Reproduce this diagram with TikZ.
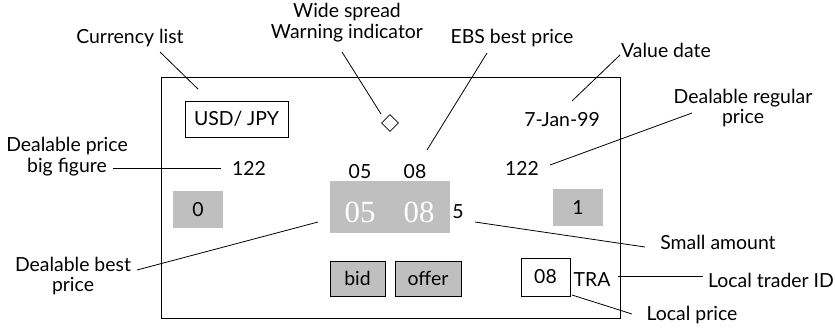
\documentclass[tikz,border=0pt]{standalone}
\usepackage{fontspec}
\usetikzlibrary{shapes.geometric}
\setmainfont{Lato}
\newfontfamily\serifnum{Liberation Serif}
\begin{document}
\begin{tikzpicture}[x=1bp,y=-1bp,
  lbl/.style={font=\fontsize{19.5}{21}\selectfont, inner sep=0pt, align=center},
  val/.style={font=\fontsize{19.5}{21}\selectfont, inner sep=0pt},
  graybox/.style={fill=gray!50!white, draw=none},
  btn/.style={fill=gray!50!white, draw=black, line width=0.8pt},
  wbox/.style={fill=white, draw=black, line width=0.8pt},
  lead/.style={line width=0.8pt},
  big/.style={font=\serifnum\fontsize{31}{31}\selectfont, text=white, inner sep=0pt}]
\useasboundingbox (0,0) rectangle (835,327);
% frame
\draw[line width=0.8pt] (161,77) rectangle (620,318);
% boxes
\node[wbox, minimum width=103bp, minimum height=36bp, inner sep=0pt] (usd) at (236.5,119) {};
\node[val] (usdt) at (236.5,119) {USD/ JPY};
\node[draw, line width=0.8pt, shape=diamond, minimum size=17bp, inner sep=0pt] (dia) at (390,123) {};
\fill[graybox] (330,181) rectangle (450,233);
\node[big] (b05) at (360,212) {05};
\node[big] (b08) at (419,212) {08};
\node[val] (s05) at (360,172) {05};
\node[val] (s08) at (415,172) {08};
\node[val] (five) at (458,212) {5};
\node[graybox, minimum width=50bp, minimum height=37bp, inner sep=0pt] (box0) at (198,209.5) {};
\node[val] at (198,209.5) {0};
\node[graybox, minimum width=50bp, minimum height=37bp, inner sep=0pt] (box1) at (578,207.5) {};
\node[val] at (578,207.5) {1};
\node[btn, minimum width=55bp, minimum height=35bp, inner sep=0pt] (bid) at (357.5,278.5) {};
\node[val] at (357.5,278.5) {bid};
\node[btn, minimum width=66bp, minimum height=35bp, inner sep=0pt] (offer) at (428,278.5) {};
\node[val] at (428,278.5) {offer};
\node[wbox, minimum width=49bp, minimum height=38bp, inner sep=0pt] (lp) at (545.5,277) {};
\node[val] at (545.5,277) {08};
\node[val] (tra) at (592,280) {TRA};
\node[val] (l122) at (249,168) {122};
\node[val] (r122) at (522,168) {122};
\node[val] (date) at (562,120) {7-Jan-99};
% labels
\node[lbl] (cur) at (130,38) {Currency list};
\node[lbl] (wide) at (347,23) {Wide spread\\Warning indicator};
\node[lbl] (ebs) at (512,38) {EBS best price};
\node[lbl] (vd) at (666,50) {Value date};
\node[lbl] (drp) at (743,108) {Dealable regular\\price};
\node[lbl] (dpbf) at (67,157) {Dealable price\\big figure};
\node[lbl] (sa) at (718,242) {Small amount};
\node[lbl] (dbp) at (73,276) {Dealable best\\price};
\node[lbl] (ltid) at (771,280) {Local trader ID};
\node[lbl] (lpr) at (692,315) {Local price};
% leader coordinates
\coordinate (pa1) at (160,52); \coordinate (pb1) at (198,89);
\coordinate (pa2) at (342,52); \coordinate (pb2) at (381,114);
\coordinate (pa3) at (487,53); \coordinate (pb3) at (427,150);
\coordinate (pa4) at (620,55); \coordinate (pb4) at (572,101);
\coordinate (pa5) at (692,113); \coordinate (pb5) at (550,165);
\coordinate (pa6) at (113,168); \coordinate (pb6) at (221,168);
\coordinate (pa7) at (475,222); \coordinate (pb7) at (645,247);
\coordinate (pa8) at (137,270); \coordinate (pb8) at (318,222);
\coordinate (pa9) at (618,276); \coordinate (pb9) at (703,276);
\coordinate (pa10) at (572,295); \coordinate (pb10) at (632,314);
\foreach \i in {1,...,10} \draw[lead] (pa\i) -- (pb\i);
\end{tikzpicture}
\end{document}
